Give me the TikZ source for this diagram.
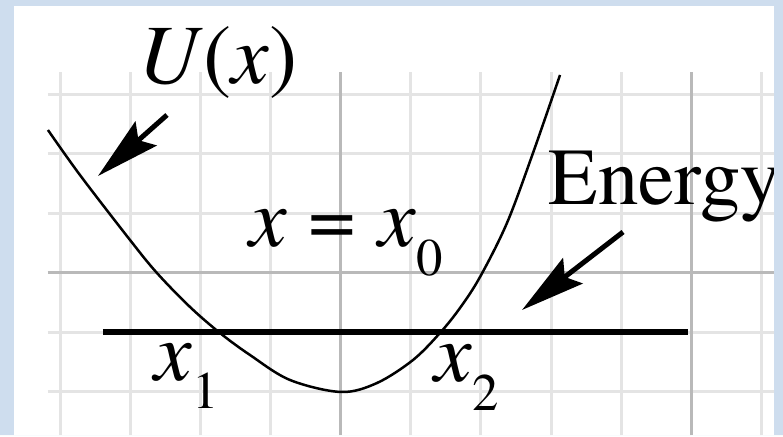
\documentclass[tikz,border=0pt]{standalone}
\usepackage{fontspec}
\setmainfont{TeX Gyre Termes}
\usetikzlibrary{arrows.meta}
\definecolor{framebg}{RGB}{206,221,238}
\definecolor{gridlt}{RGB}{228,228,228}
\definecolor{griddk}{RGB}{185,185,185}
\newcommand{\lowsub}[1]{\raisebox{-0.34em}{\fontsize{15}{15}\selectfont #1}}
\tikzset{
  pointer/.style={line width=0.05cm,-{Stealth[length=0.64cm,width=0.32cm,inset=0.1cm]}},
  lbl/.style={inner sep=0pt,font=\fontsize{24}{24}\selectfont},
  gridline/.style={gridlt,line width=0.03cm},
}

\begin{document}
\begin{tikzpicture}[x=0.7cm,y=0.595cm]
  \fill[white] (-4.871,-0.723) rectangle (6.314,6.588);
  % grid
  \foreach \i in {-4,...,6}
    \draw[gridline] (\i,-0.723) -- (\i,5.378);
  \foreach \j in {0,...,5}
    \draw[gridline] (-4.186,\j) -- (6.186,\j);
  \draw[gridline,griddk] (0,-0.723) -- (0,5.378) (5,-0.723) -- (5,5.378)
    (-4.186,2) -- (6.186,2);
  % energy level
  \coordinate (eL) at (-3.4,1);
  \coordinate (eR) at (4.96,1);
  \draw[line width=0.06cm] (eL) -- (eR);
  % potential curve
  \draw[line width=0.025cm] plot[smooth,tension=0.55] coordinates {
    (-4.186,4.403) (-3.729,3.647) (-3.014,2.555) (-2.629,2.0) (-2.157,1.429)
    (-1.729,0.992) (-1.3,0.622) (-0.729,0.202) (0,0) (0.514,0.151)
    (1.029,0.538) (1.414,0.992) (1.7,1.412) (1.986,1.933) (2.371,2.840)
    (2.743,4.017) (3.129,5.328)};
  % labels
  \node[lbl] (ulab) at (-1.757,5.546) {\textit{U}(\textit{x})};
  \node[lbl,anchor=base west,font=\fontsize{23}{23}\selectfont] (elab)
    at (2.957,3.143) {Energy};
  \node[lbl,anchor=base west] (xzero) at (-1.32,2.437)
    {\textit{x}\hspace{0.26em}=\hspace{0.26em}\textit{x}\lowsub{0}};
  \node[lbl,anchor=base west] (xone) at (-2.67,0.2) {\textit{x}\lowsub{1}};
  \node[lbl,anchor=base west] (xtwo) at (1.33,0.168) {\textit{x}\lowsub{2}};
  % pointers
  \coordinate (uTail) at (-2.486,4.655);
  \coordinate (uTip) at (-3.471,3.630);
  \coordinate (eTail) at (4.029,2.689);
  \coordinate (eTip) at (2.586,1.378);
  \draw[pointer] (uTail) -- (uTip);
  \draw[pointer] (eTail) -- (eTip);
  % frame on top
  \fill[framebg,even odd rule] (-4.871,-0.723) rectangle (6.314,6.588)
    (-4.671,-0.723) rectangle (6.186,6.487);
\end{tikzpicture}
\end{document}
